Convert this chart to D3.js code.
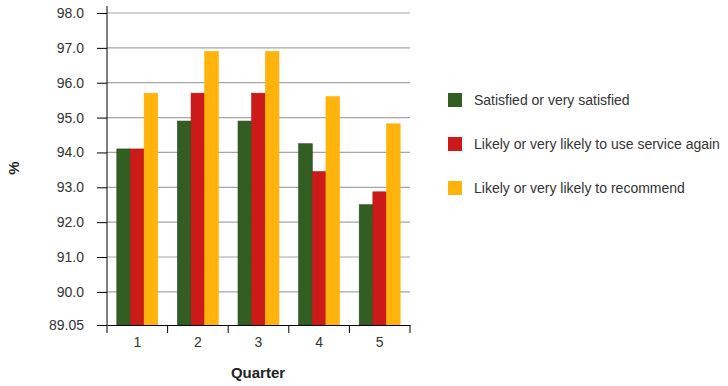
<!DOCTYPE html>
<html lang="en">
<head>
<meta charset="UTF-8">
<title>Quarterly satisfaction</title>
<script src="https://d3js.org/d3.v7.min.js"></script>
<style>
body { margin: 0; background: #fff; }
svg { font-family: "Liberation Sans", Arial, sans-serif; }
.tick text { font-size: 14px; fill: #333; }
.legend text { font-size: 14px; fill: #333; }
</style>
</head>
<body>
<svg id="chart" width="728" height="386"></svg>
<script>
// data
const quarters = ["1", "2", "3", "4", "5"];
const seriesNames = ["Satisfied or very satisfied", "Likely or very likely to use service again", "Likely or very likely to recommend"];
const satisfied = [94.1, 94.9, 94.9, 94.25, 92.5];
const useAgain = [94.1, 95.7, 95.7, 93.45, 92.87];
const recommend = [95.7, 96.9, 96.9, 95.6, 94.82];
const yTicks = [89.05, 90, 91, 92, 93, 94, 95, 96, 97, 98];
const colors = ["#335e22", "#cc1a19", "#ffb30b"];
const strokes = ["#24461a", "#b01414", "#ffb30b"];

const svg = d3.select("#chart");
const m = { left: 107, right: 410, top: 13, bottom: 325 };

const x = d3.scaleBand().domain(quarters).range([m.left, m.right]).paddingInner(0).paddingOuter(0);
const x1 = d3.scaleBand().domain([0, 1, 2]).range([0, x.bandwidth()]).paddingInner(0).paddingOuter(0.72);
const y = d3.scaleLinear().domain([89.05, 98]).range([m.bottom, m.top]);

// gridlines
svg.append("g").selectAll("line")
    .data(yTicks.slice(1))
    .join("line")
    .attr("x1", m.left).attr("x2", m.right)
    .attr("y1", d => y(d)).attr("y2", d => y(d))
    .attr("stroke", "#a6a6a6").attr("stroke-width", 1.2);

// bars
const all = [satisfied, useAgain, recommend];
const groups = svg.append("g").selectAll("g")
    .data(quarters)
    .join("g")
    .attr("transform", d => `translate(${x(d)},0)`);

groups.selectAll("rect")
    .data((q, i) => all.map((s, k) => ({ k: k, v: s[i] })))
    .join("rect")
    .attr("x", d => x1(d.k))
    .attr("width", x1.bandwidth())
    .attr("y", d => y(d.v))
    .attr("height", d => y.range()[0] - y(d.v))
    .attr("fill", d => colors[d.k])
    .attr("stroke", d => strokes[d.k])
    .attr("stroke-width", 0.6);

// y axis
const yAxis = svg.append("g")
    .attr("transform", `translate(${m.left},0)`)
    .call(d3.axisLeft(y).tickValues(yTicks).tickSize(10).tickPadding(13)
        .tickFormat(d => d === 89.05 ? "89.05" : d3.format(".1f")(d)));
yAxis.select(".domain").remove();
yAxis.selectAll(".tick line").attr("stroke", "#000");
svg.append("line")
    .attr("x1", m.left).attr("x2", m.left)
    .attr("y1", 6).attr("y2", m.bottom)
    .attr("stroke", "#000");

// x axis
const xAxis = svg.append("g")
    .attr("transform", `translate(0,${m.bottom})`)
    .call(d3.axisBottom(x).tickSize(0).tickPadding(12));
xAxis.select(".domain").attr("stroke", "#000");
xAxis.selectAll(".tick text").attr("dy", "0.71em");
// boundary ticks between the quarters
svg.append("g").selectAll("line")
    .data(quarters.concat(["end"]))
    .join("line")
    .attr("x1", (d, i) => i < quarters.length ? x(d) : m.right)
    .attr("x2", (d, i) => i < quarters.length ? x(d) : m.right)
    .attr("y1", m.bottom).attr("y2", m.bottom + 8)
    .attr("stroke", "#000");

// axis titles
svg.append("text")
    .attr("transform", "translate(19,168) rotate(-90)")
    .attr("text-anchor", "middle")
    .attr("font-size", 15).attr("font-weight", "bold").attr("fill", "#222")
    .text("%");
svg.append("text")
    .attr("x", 258).attr("y", 378)
    .attr("text-anchor", "middle")
    .attr("font-size", 15).attr("font-weight", "bold").attr("fill", "#222")
    .text("Quarter");

// legend
const legend = svg.append("g").attr("class", "legend")
    .selectAll("g")
    .data(seriesNames)
    .join("g")
    .attr("transform", (d, i) => `translate(448,${93 + i * 44})`);
legend.append("rect")
    .attr("width", 14).attr("height", 14)
    .attr("fill", (d, i) => colors[i]);
legend.append("text")
    .attr("x", 26).attr("y", 12)
    .text(d => d);
</script>
</body>
</html>
